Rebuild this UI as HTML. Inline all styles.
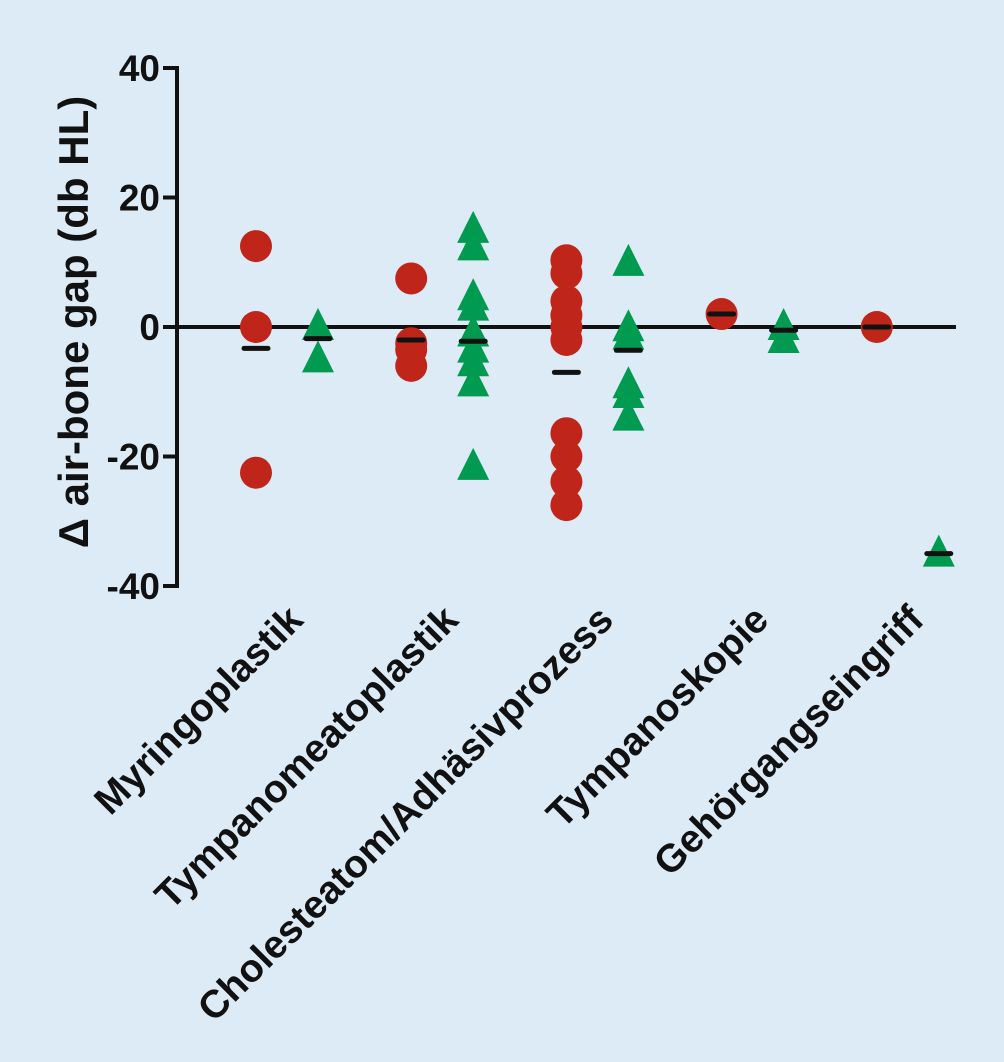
<!DOCTYPE html>
<html><head><meta charset="utf-8"><style>
html,body{margin:0;padding:0;background:#ddebf7;}
svg{display:block;font-family:"Liberation Sans",sans-serif;font-weight:bold;}
</style></head><body>
<svg id="chart" width="1004" height="1062" viewBox="0 0 1004 1062">
<rect width="1004" height="1062" fill="#ddebf7"/>
<g id="plot"></g>
</svg>
<script>
const categories=["Myringoplastik","Tympanomeatoplastik","Cholesteatom/Adhäsivprozess","Tympanoskopie","Gehörgangseingriff"];
const redValues=[[12.5,0,-22.5],[7.5,-2.5,-3.5,-6],[10.3,8.3,4,1.8,0,-2,-16.4,-20,-23.9,-27.5],[2],[0]];
const greenValues=[[0,-5],[15,12.3,4.6,3,-1,-3.5,-5.6,-8.7,-21.6],[9.9,-0.2,-1.5,-9,-10.5,-14],[0,-2],[-35]];
const redMeans=[-3.3,-2,-7,2,0];
const greenMeans=[-1.8,-2.2,-3.6,-0.5,-35];
const yTicks=[40,20,0,-20,-40];
const NS="http://www.w3.org/2000/svg";
const g=document.getElementById('plot');
function y(v){return 327-v*6.475;}
function xr(i){return 256+i*155.2;}
function xg(i){return 318+i*155.2;}
function mk(t,a){const e=document.createElementNS(NS,t);for(const k in a)e.setAttribute(k,a[k]);g.appendChild(e);return e;}
let e;
e=mk('line',{x1:177,y1:y(40),x2:177,y2:y(-40),stroke:'#111','stroke-width':4});


yTicks.forEach(t=>{
 e=mk('line',{x1:163,y1:y(t),x2:179,y2:y(t),stroke:'#111','stroke-width':4});
 
 
 e=mk('text',{x:160,y:y(t)+13,'text-anchor':'end','font-size':37,fill:'#111'});e.textContent=t;
 
 
});
e=mk('line',{x1:177,y1:y(0),x2:956,y2:y(0),stroke:'#111','stroke-width':4});


e=mk('text',{transform:'translate(88,322) rotate(-90)','text-anchor':'middle','font-size':42,fill:'#111'});e.textContent='Δ air-bone gap (db HL)';


categories.forEach((c,i)=>{
 redValues[i].forEach(v=>{e=mk('circle',{cx:xr(i),cy:y(v),r:16,fill:'#bf2619'});
  
  });
 greenValues[i].forEach(v=>{const X=xg(i),Y=y(v);e=mk('polygon',{points:`${X},${Y-19} ${X+16},${Y+13} ${X-16},${Y+13}`,fill:'#009a50'});
  
  });
 e=mk('line',{x1:xr(i)-12,y1:y(redMeans[i]),x2:xr(i)+12,y2:y(redMeans[i]),stroke:'#111','stroke-width':5,'stroke-linecap':'round'});
 
 
 e=mk('line',{x1:xg(i)-12,y1:y(greenMeans[i]),x2:xg(i)+12,y2:y(greenMeans[i]),stroke:'#111','stroke-width':5,'stroke-linecap':'round'});
 
 
 const lx=305+i*155.2,ly=622;
 e=mk('text',{transform:`translate(${lx},${ly}) rotate(-45)`,'text-anchor':'end','font-size':39,fill:'#111'});e.textContent=c;
 
 
});
</script>
</body></html>
